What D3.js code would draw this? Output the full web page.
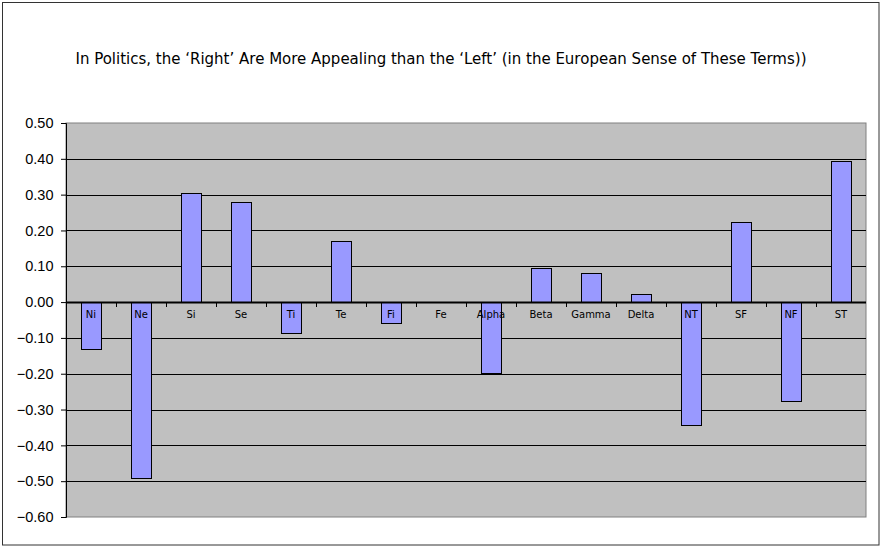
<!DOCTYPE html>
<html><head><meta charset="utf-8">
<script src="https://cdn.jsdelivr.net/npm/d3@7/dist/d3.min.js"></script>
<style>body{margin:0;background:#fff;}svg{display:block;}</style>
</head><body>
<svg id="c" width="882" height="548"></svg>
<script>
const categories = ["Ni","Ne","Si","Se","Ti","Te","Fi","Fe","Alpha","Beta","Gamma","Delta","NT","SF","NF","ST"];
const values = [-0.13,-0.49,0.305,0.28,-0.087,0.17,-0.059,0,-0.198,0.095,0.081,0.022,-0.343,0.223,-0.277,0.394];
const yTicks = [0.5,0.4,0.3,0.2,0.1,0,-0.1,-0.2,-0.3,-0.4,-0.5,-0.6];
const title = "In Politics, the \u2018Right\u2019 Are More Appealing than the \u2018Left\u2019 (in the European Sense of These Terms))";

const svg = d3.select("#c");
const L = 66, R = 866, T = 123, B = 517;

svg.append("rect").attr("x",2.5).attr("y",2.5).attr("width",876.5).attr("height",542.5)
  .attr("fill","#fff").attr("stroke","#333").attr("stroke-width",1);

svg.append("text").attr("x",441).attr("y",64).attr("text-anchor","middle")
  .attr("font-family","DejaVu Sans").attr("font-size",15).attr("fill","#000").text(title);

const x = d3.scaleBand().domain(categories).range([L,R]).paddingInner(0.6).paddingOuter(0.3);
const xb = d3.scaleBand().domain(categories).range([L,R]);
const y = d3.scaleLinear().domain([-0.6,0.5]).range([B,T]);

svg.append("rect").attr("x",L).attr("y",T).attr("width",R-L).attr("height",B-T)
  .attr("fill","#C0C0C0").attr("stroke","#808080").attr("stroke-width",1);

// gridlines
svg.append("g").selectAll("line").data(yTicks.filter(d=>d!==0 && d!==-0.6 && d!==0.5)).join("line")
  .attr("x1",L).attr("x2",R).attr("y1",d=>Math.round(y(d))+0.5).attr("y2",d=>Math.round(y(d))+0.5)
  .attr("stroke","#000").attr("stroke-width",1);

// y axis
const yAxis = d3.axisLeft(y).tickValues(yTicks).tickSize(5).tickFormat(d3.format(".2f"));
const ga = svg.append("g").attr("transform",`translate(${L},0)`).call(yAxis);
ga.select(".domain").attr("stroke","#000");
ga.selectAll(".tick line").attr("stroke","#000");
ga.selectAll(".tick text").attr("font-family","Liberation Sans").attr("font-size",14.5).attr("fill","#000").attr("x",-12.5);

// bars
svg.append("g").selectAll("rect").data(values).join("rect")
  .attr("x",(d,i)=>Math.round(x(categories[i]))+0.5)
  .attr("width",Math.round(x.bandwidth()))
  .attr("y",d=>Math.round(y(Math.max(0,d)))+0.5)
  .attr("height",d=>Math.max(0,Math.round(Math.abs(y(d)-y(0)))))
  .attr("fill",d=>d===0?"none":"#9999FF").attr("stroke",d=>d===0?"none":"#000").attr("stroke-width",1);

// x axis at zero
const z = Math.round(y(0));
svg.append("line").attr("x1",L).attr("x2",R).attr("y1",z+0.5).attr("y2",z+0.5).attr("stroke","#000").attr("stroke-width",2);
svg.append("g").selectAll("line").data(categories.slice(1)).join("line")
  .attr("x1",d=>Math.round(xb(d))+0.5).attr("x2",d=>Math.round(xb(d))+0.5)
  .attr("y1",z).attr("y2",z+5).attr("stroke","#000");
svg.append("g").selectAll("text").data(categories).join("text")
  .attr("x",d=>xb(d)+xb.bandwidth()/2).attr("y",z+16).attr("text-anchor","middle")
  .attr("font-family","DejaVu Sans").attr("font-size",10).attr("fill","#000").text(d=>d);
</script>
</body></html>
